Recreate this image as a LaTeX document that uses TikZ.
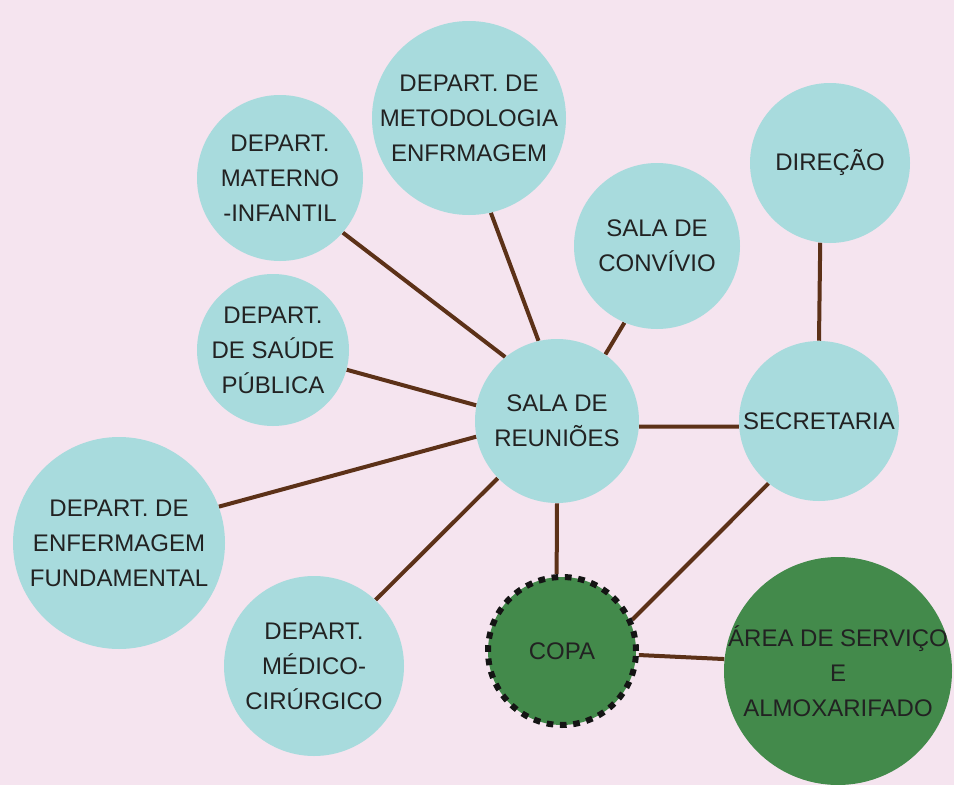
\documentclass[tikz,border=0pt]{standalone}
\usepackage{fontspec}
\setmainfont{Liberation Sans}
\definecolor{bgpink}{HTML}{F5E4EF}
\definecolor{teal}{HTML}{A8DBDD}
\definecolor{dgreen}{HTML}{438A4B}
\definecolor{brownline}{HTML}{5C3118}
\definecolor{txt}{HTML}{222222}
\pgfdeclarelayer{back}
\pgfdeclarelayer{lines}
\pgfsetlayers{back,lines,main}
\begin{document}
\begin{tikzpicture}[x=0.75pt,y=-0.75pt,
  room/.style={circle,fill=teal,inner sep=0pt,minimum size=#1*0.75pt},
  groom/.style={room=#1,fill=dgreen},
  copastyle/.style={groom=#1,draw=black!92,line width=4.5pt,dash pattern=on 5pt off 5pt},
  lbl/.style={inner sep=0pt,align=center,text=txt,font=\fontsize{18}{26.3}\selectfont},
  link/.style={draw=brownline,line width=3pt}]
\begin{pgfonlayer}{back}
\fill[bgpink] (0,0) rectangle (954,785);
\end{pgfonlayer}
\useasboundingbox (0,0) rectangle (954,785);
% circles
\node[room=194] (met) at (469,118) {};
\node[room=166] (mat) at (280,178) {};
\node[room=166] (con) at (657,246) {};
\node[room=160] (dir) at (830,163) {};
\node[room=152] (sau) at (273,350) {};
\node[room=164] (reu) at (557,421) {};
\node[room=160] (sec) at (819,421) {};
\node[room=212] (fun) at (119,543) {};
\node[room=180] (med) at (314,666) {};
\node[copastyle=148] (copa) at (562,651) {};
\node[groom=228] (area) at (838,671) {};
% texts
\node[lbl] (met-t) at (met) {DEPART. DE\\METODOLOGIA\\ENFRMAGEM};
\node[lbl] (mat-t) at (mat) {DEPART.\\MATERNO\\-INFANTIL};
\node[lbl] (con-t) at (con) {SALA DE\\CONVÍVIO};
\node[lbl] (dir-t) at (dir) {DIREÇÃO};
\node[lbl] (sau-t) at (sau) {DEPART.\\DE SAÚDE\\PÚBLICA};
\node[lbl] (reu-t) at (reu) {SALA DE\\REUNIÕES};
\node[lbl] (sec-t) at (sec) {SECRETARIA};
\node[lbl] (fun-t) at (fun) {DEPART. DE\\ENFERMAGEM\\FUNDAMENTAL};
\node[lbl] (med-t) at (med) {DEPART.\\MÉDICO-\\CIRÚRGICO};
\node[lbl] (copa-t) at (copa) {COPA};
\node[lbl] (area-t) at (area) {ÁREA DE SERVIÇO\\E\\ALMOXARIFADO};
% connectors
\begin{pgfonlayer}{lines}
\path[link] (reu.103) -- (met.-77);
\path[link] (reu.129) -- (mat.-41);
\path[link] (reu.169) -- (sau.-15);
\path[link] (reu.191) -- (fun.20);
\path[link] (reu.224) -- (med.47);
\path[link] (reu.54) -- (con.-113);
\path[link] (reu.-4) -- (sec.184);
\path[link] (reu.-90) -- (copa.94);
\path[link] (sec.90) -- (dir.-97);
\path[link] (sec.-129) -- (copa.24);
\path[link] (copa.-3) -- (area.174);
\end{pgfonlayer}
\end{tikzpicture}
\end{document}
